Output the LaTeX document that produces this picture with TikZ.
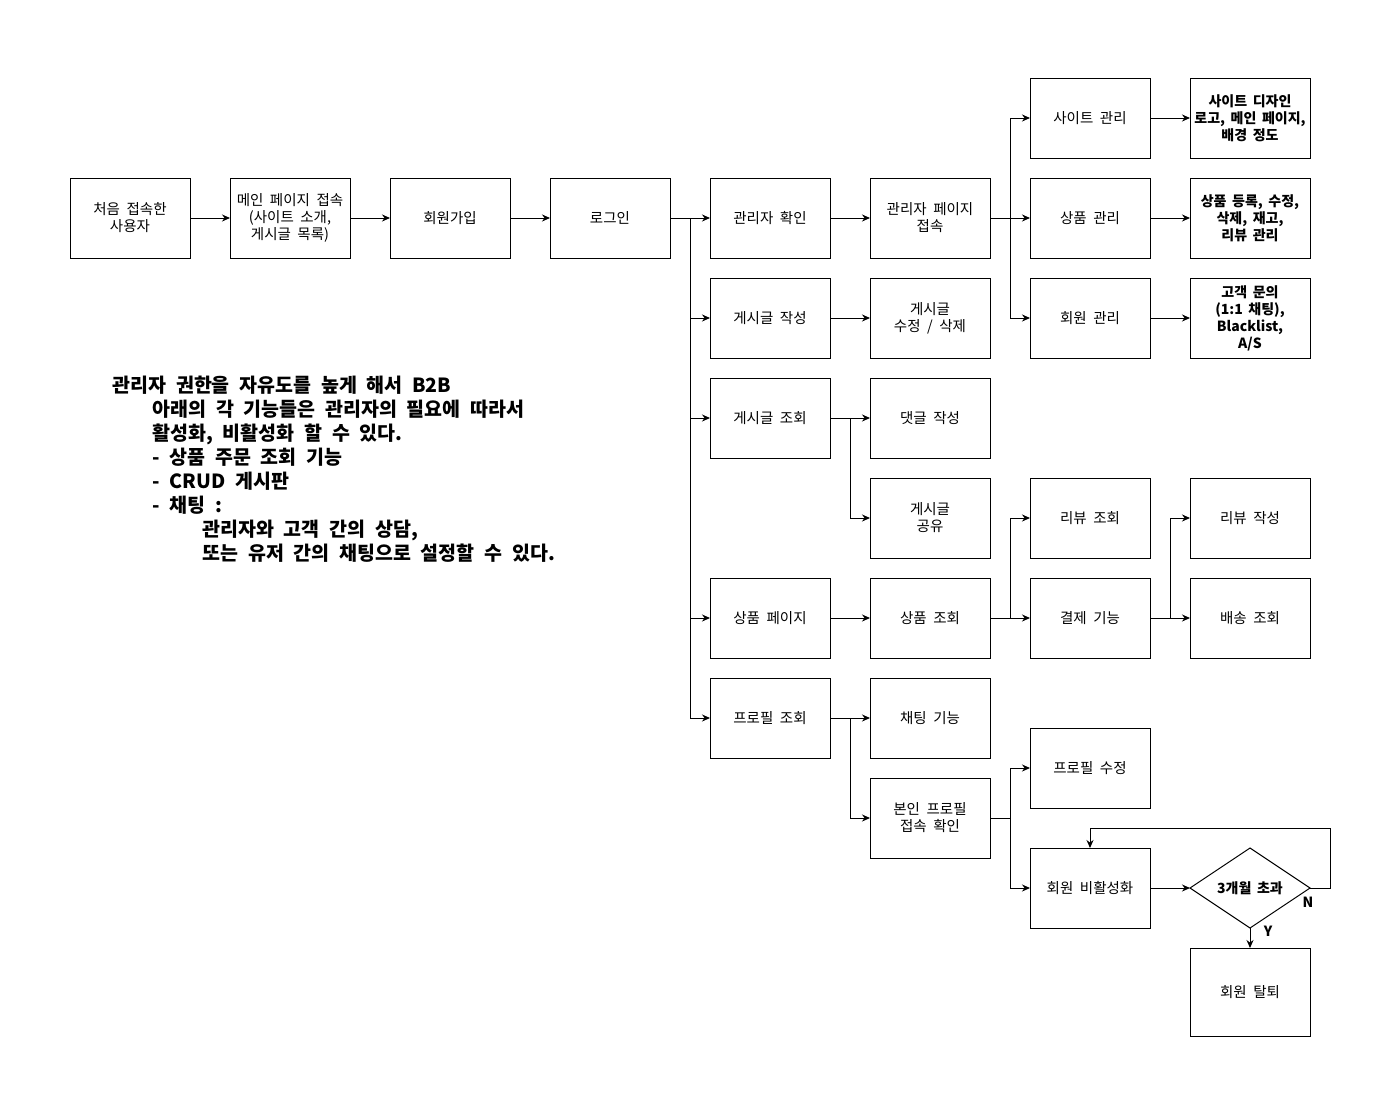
\documentclass[tikz,border=0pt]{standalone}
\usepackage{fontspec}
\setmainfont{Noto Sans CJK KR}
\usetikzlibrary{arrows.meta,positioning,shapes.geometric}
\newcommand{\boxfont}{\fontsize{14.5}{17}\selectfont\spaceskip 0.45em\relax}
\newcommand{\bboxfont}{\fontsize{14}{17}\selectfont\bfseries\spaceskip 0.4em\relax}
\newcommand{\memofont}{\fontsize{19.5}{23.9}\selectfont\bfseries\spaceskip 0.5em\relax}

\begin{document}
\begin{tikzpicture}[x=1pt, y=-1pt, line width=1pt, >={Stealth[length=8pt,width=7pt]},
	box/.style={rectangle, draw=black, line width=1pt, outer sep=0pt, minimum width=120pt, minimum height=80pt, align=center, inner sep=2pt, font=\boxfont},
	bbox/.style={box, font=\bboxfont},
	dia/.style={diamond, draw=black, line width=1pt, outer sep=0pt, minimum width=120pt, minimum height=80pt, inner sep=0pt, aspect=1.5, font=\bboxfont},
	yn/.style={inner sep=0pt, font=\fontsize{14}{15}\selectfont\bfseries},
	memo/.style={align=left, inner sep=0pt, font=\memofont}]
	\fill[white] (0,0) rectangle (1399,1119);
	\useasboundingbox (0,0) rectangle (1399,1119);

	\node[box] (n1) at (130,218) {처음 접속한\\사용자};
	\node[box, right=40pt of n1] (n2) {메인 페이지 접속\\(사이트 소개,\\게시글 목록)};
	\node[box, right=40pt of n2] (n3) {회원가입};
	\node[box, right=40pt of n3] (n4) {로그인};
	\draw[->] (n1) -- (n2);
	\draw[->] (n2) -- (n3);
	\draw[->] (n3) -- (n4);

	\node[box, right=40pt of n4] (adm) {관리자 확인};
	\node[box, right=40pt of adm] (admp) {관리자 페이지\\접속};
	\node[box, right=40pt of admp] (goods) {상품 관리};
	\node[box, above=20pt of goods] (site) {사이트 관리};
	\node[box, below=20pt of goods] (mem) {회원 관리};
	\node[bbox, right=40pt of site] (siter) {사이트 디자인\\로고, 메인 페이지,\\배경 정도};
	\node[bbox, right=40pt of goods] (goodsr) {상품 등록, 수정,\\삭제, 재고,\\리뷰 관리};
	\node[bbox, right=40pt of mem] (memr) {고객 문의\\(1:1 채팅),\\Blacklist,\\A/S};

	\node[box, below=20pt of adm] (wr) {게시글 작성};
	\node[box, right=40pt of wr] (wre) {게시글\\수정 / 삭제};
	\node[box, below=20pt of wr] (rd) {게시글 조회};
	\node[box, right=40pt of rd] (cmt) {댓글 작성};
	\node[box, below=20pt of cmt] (shr) {게시글\\공유};

	\node[box, below=120pt of rd] (shop) {상품 페이지};
	\node[box, right=40pt of shop] (shopv) {상품 조회};
	\node[box, right=40pt of shopv] (pay) {결제 기능};
	\node[box, above=20pt of pay] (revv) {리뷰 조회};
	\node[box, right=40pt of pay] (dlv) {배송 조회};
	\node[box, above=20pt of dlv] (revw) {리뷰 작성};

	\node[box, below=20pt of shop] (prof) {프로필 조회};
	\node[box, right=40pt of prof] (chat) {채팅 기능};
	\node[box, below=20pt of chat] (myp) {본인 프로필\\접속 확인};
	\node[box, right=40pt of myp, yshift=50pt] (pedit) {프로필 수정};
	\node[box, below=40pt of pedit] (deact) {회원 비활성화};
	\node[dia, right=40pt of deact] (over) {3개월 초과};
	\node[box, below=20pt of over, minimum height=88pt] (quit) {회원 탈퇴};
	\node[yn] (nlab) at (1308,902) {N};
	\node[yn] (ylab) at (1268,931) {Y};

	\coordinate[right=20pt of n4] (n4r);
	\draw[->] (n4) -- (adm);
	\draw[->] (n4r) |- (wr);
	\draw[->] (n4r) |- (rd);
	\draw[->] (n4r) |- (shop);
	\draw[->] (n4r) |- (prof);

	\draw[->] (adm) -- (admp);
	\coordinate[right=20pt of admp] (admpr);
	\draw[->] (admp) -- (goods);
	\draw[->] (admpr) |- (site);
	\draw[->] (admpr) |- (mem);
	\draw[->] (site) -- (siter);
	\draw[->] (goods) -- (goodsr);
	\draw[->] (mem) -- (memr);

	\draw[->] (wr) -- (wre);
	\coordinate[right=20pt of rd] (rdr);
	\draw[->] (rd) -- (cmt);
	\draw[->] (rdr) |- (shr);

	\draw[->] (shop) -- (shopv);
	\coordinate[right=20pt of shopv] (shopvr);
	\draw[->] (shopv) -- (pay);
	\draw[->] (shopvr) |- (revv);
	\coordinate[right=20pt of pay] (payr);
	\draw[->] (pay) -- (dlv);
	\draw[->] (payr) |- (revw);

	\coordinate[right=20pt of prof] (profr);
	\draw[->] (prof) -- (chat);
	\draw[->] (profr) |- (myp);
	\coordinate[right=20pt of myp] (mypr);
	\draw (myp) -- (mypr);
	\draw[->] (mypr) |- (pedit);
	\draw[->] (mypr) |- (deact);

	\draw[->] (deact) -- (over);
	\draw[->] (over) -- (quit);
	\coordinate[right=20pt of over] (overr);
	\coordinate[above=20pt of deact] (deactt);
	\draw[->] (over.east) -- (overr) |- (deactt) -- (deact);

	\node[memo, anchor=north west] (note) at (112,376) {관리자 권한을 자유도를 높게 해서 B2B\\
		\hspace*{40pt}아래의 각 기능들은 관리자의 필요에 따라서\\
		\hspace*{40pt}활성화, 비활성화 할 수 있다.\\
		\hspace*{40pt}- 상품 주문 조회 기능\\
		\hspace*{40pt}- CRUD 게시판\\
		\hspace*{40pt}- 채팅 :\\
		\hspace*{90pt}관리자와 고객 간의 상담,\\
		\hspace*{90pt}또는 유저 간의 채팅으로 설정할 수 있다.};
\end{tikzpicture}
\end{document}
